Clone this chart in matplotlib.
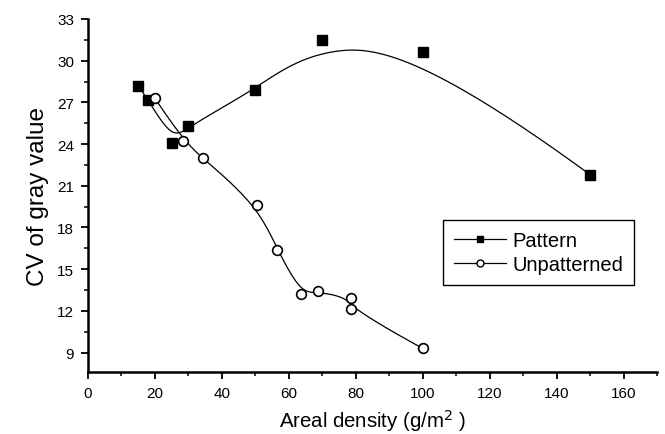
import numpy as np
import matplotlib
matplotlib.use('Agg')
import matplotlib.pyplot as plt
from matplotlib.lines import Line2D
from matplotlib.ticker import MultipleLocator

plt.rcParams['font.family'] = ['Liberation Sans', 'DejaVu Sans']

# data
pattern_x = [15, 18, 25, 30, 50, 70, 100, 150]
pattern_y = [28.2, 27.2, 24.1, 25.3, 27.9, 31.5, 30.6, 21.8]

unpat_x = [20, 28.5, 34.3, 50.5, 56.6, 63.7, 68.7, 78.7, 78.7, 100]
unpat_y = [27.3, 24.2, 23.0, 19.6, 16.4, 13.2, 13.4, 12.9, 12.1, 9.3]


def bspline(xs, ys, n=500, k=3):
    # clamped uniform B-spline with the data points as control points
    P = np.column_stack([xs, ys]).astype(float)
    m = len(P)
    inner = np.linspace(0, 1, m - k + 1)
    knots = np.concatenate([np.zeros(k), inner, np.ones(k)])
    t = np.linspace(0, 1, n)
    t[-1] = 1 - 1e-12
    # Cox-de Boor recursion
    B = np.zeros((n, len(knots) - 1))
    for i in range(len(knots) - 1):
        B[:, i] = (t >= knots[i]) & (t < knots[i + 1])
    for d in range(1, k + 1):
        Bn = np.zeros((n, len(knots) - 1 - d))
        for i in range(len(knots) - 1 - d):
            a = knots[i + d] - knots[i]
            b = knots[i + d + 1] - knots[i + 1]
            left = (t - knots[i]) / a * B[:, i] if a > 0 else 0
            right = (knots[i + d + 1] - t) / b * B[:, i + 1] if b > 0 else 0
            Bn[:, i] = left + right
        B = Bn
    curve = B @ P
    return curve[:, 0], curve[:, 1]


fig = plt.figure(figsize=(6.65, 4.35), dpi=100)
ax = fig.add_axes([88 / 665, 62 / 435, 569 / 665, 353 / 435])

cx, cy = bspline(pattern_x, pattern_y)
ax.plot(cx, cy, color='black', linewidth=0.9)
ax.plot(pattern_x, pattern_y, 's', color='black', markersize=6.5, linestyle='none')

cx, cy = bspline(unpat_x, unpat_y)
ax.plot(cx, cy, color='black', linewidth=0.9)
ax.plot(unpat_x, unpat_y, 'o', markerfacecolor='white', markeredgecolor='black',
        markersize=7, markeredgewidth=1.2, linestyle='none')

ax.set_xlim(0, 170)
ax.set_ylim(7.6, 33)
ax.xaxis.set_major_locator(MultipleLocator(20))
ax.xaxis.set_minor_locator(MultipleLocator(10))
ax.yaxis.set_major_locator(MultipleLocator(3))
ax.yaxis.set_minor_locator(MultipleLocator(1.5))
ax.spines['top'].set_visible(False)
ax.spines['right'].set_visible(False)
ax.spines['left'].set_linewidth(1.8)
ax.spines['bottom'].set_linewidth(1.8)
ax.tick_params(which='major', direction='out', length=5, width=1.3, labelsize=11, pad=5)
ax.tick_params(which='minor', direction='out', length=3, width=1.1)

ax.set_xlabel('Areal density (g/m$^2$ )', fontsize=14.7, labelpad=5)
ax.set_ylabel('CV of gray value', fontsize=17.5, labelpad=6)

handles = [
    Line2D([], [], color='black', linewidth=0.9, marker='s', markersize=5, label='Pattern'),
    Line2D([], [], color='black', linewidth=0.9, marker='o', markersize=5,
           markerfacecolor='white', label='Unpatterned'),
]
leg = ax.legend(handles=handles, loc='center left', bbox_to_anchor=(0.624, 0.339),
                fontsize=14.5, frameon=True, fancybox=False, framealpha=1,
                edgecolor='black', handlelength=2.6, borderpad=0.55, labelspacing=0.25,
                handletextpad=0.3, borderaxespad=0)
leg.get_frame().set_linewidth(1.0)

fig.savefig('out.png', dpi=100)
